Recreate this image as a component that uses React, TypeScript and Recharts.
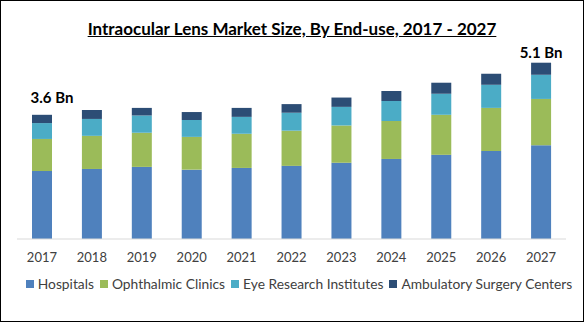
import { BarChart, Bar, XAxis, YAxis, Legend, LabelList } from 'recharts'

const years = ['2017', '2018', '2019', '2020', '2021', '2022', '2023', '2024', '2025', '2026', '2027']

// USD Bn
const hospitals = [1.97, 2.03, 2.09, 2.01, 2.06, 2.12, 2.21, 2.32, 2.44, 2.55, 2.72]
const clinics = [0.93, 0.96, 0.99, 0.95, 0.99, 1.02, 1.08, 1.1, 1.16, 1.25, 1.34]
const eyeResearch = [0.46, 0.49, 0.5, 0.49, 0.49, 0.52, 0.54, 0.58, 0.61, 0.67, 0.7]
const ambulatory = [0.24, 0.26, 0.22, 0.23, 0.26, 0.25, 0.27, 0.29, 0.32, 0.32, 0.35]

const totalLabels = ['3.6 Bn', '', '', '', '', '', '', '', '', '', '5.1 Bn']

const seriesKeys = ['hospitals', 'clinics', 'eyeResearch', 'ambulatory']

const data = years.map((year, i) => ({
  year,
  hospitals: hospitals[i],
  clinics: clinics[i],
  eyeResearch: eyeResearch[i],
  ambulatory: ambulatory[i],
  label: totalLabels[i],
}))

const FONT = 'Lato, "Open Sans", sans-serif'

// callout above first and last bar
const renderTotal = (props: any) => {
  const { x, y, width, value, index } = props
  if (!value) return null
  const dx = index === 0 ? 10 : 0
  const dy = index === 0 ? -18 : -11
  return (
    <text
      x={Number(x) + Number(width) / 2 + dx}
      y={Number(y) + dy}
      textAnchor="middle"
      dominantBaseline="central"
      fontFamily={FONT}
      fontWeight={700}
      fontSize={15}
      fill="#000"
    >
      {value}
    </text>
  )
}

// legend in series order, one line
const renderLegend = (props: any) => {
  const items = [...(props.payload || [])].sort(
    (a: any, b: any) => seriesKeys.indexOf(a.dataKey) - seriesKeys.indexOf(b.dataKey)
  )
  return (
    <div style={{ display: 'flex', justifyContent: 'center', gap: 6, whiteSpace: 'nowrap' }}>
      {items.map((it: any) => (
        <div key={it.value} style={{ display: 'flex', alignItems: 'center' }}>
          <span style={{ display: 'inline-block', width: 8, height: 8, background: it.color, marginRight: 4 }} />
          <span style={{ color: '#404040', fontSize: 13.8, fontFamily: FONT }}>{it.value}</span>
        </div>
      ))}
    </div>
  )
}

export default function App() {
  return (
    <div
      style={{
        position: 'absolute',
        left: 0,
        top: 0,
        width: 584,
        height: 322,
        border: '1px solid #000',
        boxSizing: 'border-box',
        background: '#fff',
        fontFamily: FONT,
      }}
    >
      <div
        style={{
          position: 'absolute',
          top: 17,
          left: 0,
          width: 582,
          textAlign: 'center',
          fontSize: 17,
          fontWeight: 700,
          textDecoration: 'underline',
          color: '#000',
        }}
      >
        Intraocular Lens Market Size, By End-use, 2017 - 2027
      </div>
      <div style={{ position: 'absolute', left: -1, top: -1 }}>
        <BarChart
          width={584}
          height={322}
          data={data}
          margin={{ top: 32, right: 18, left: 17, bottom: 27 }}
          barSize={20}
        >
          <XAxis
            dataKey="year"
            axisLine={{ stroke: '#d9d9d9' }}
            tickLine={false}
            tickMargin={8}
            height={36}
            tick={{ fill: '#404040', fontSize: 13, fontFamily: FONT }}
          />
          <YAxis hide domain={[0, 6]} />
          <Legend verticalAlign="bottom" height={20} content={renderLegend} wrapperStyle={{ left: 7, width: 584 }} />
          <Bar dataKey="hospitals" name="Hospitals" stackId="a" fill="#4f81bd" isAnimationActive={false} />
          <Bar dataKey="clinics" name="Ophthalmic Clinics" stackId="a" fill="#9bbb59" isAnimationActive={false} />
          <Bar dataKey="eyeResearch" name="Eye Research Institutes" stackId="a" fill="#4bacc6" isAnimationActive={false} />
          <Bar dataKey="ambulatory" name="Ambulatory Surgery Centers" stackId="a" fill="#2c4d75" isAnimationActive={false}>
            <LabelList dataKey="label" content={renderTotal} />
          </Bar>
        </BarChart>
      </div>
    </div>
  )
}
